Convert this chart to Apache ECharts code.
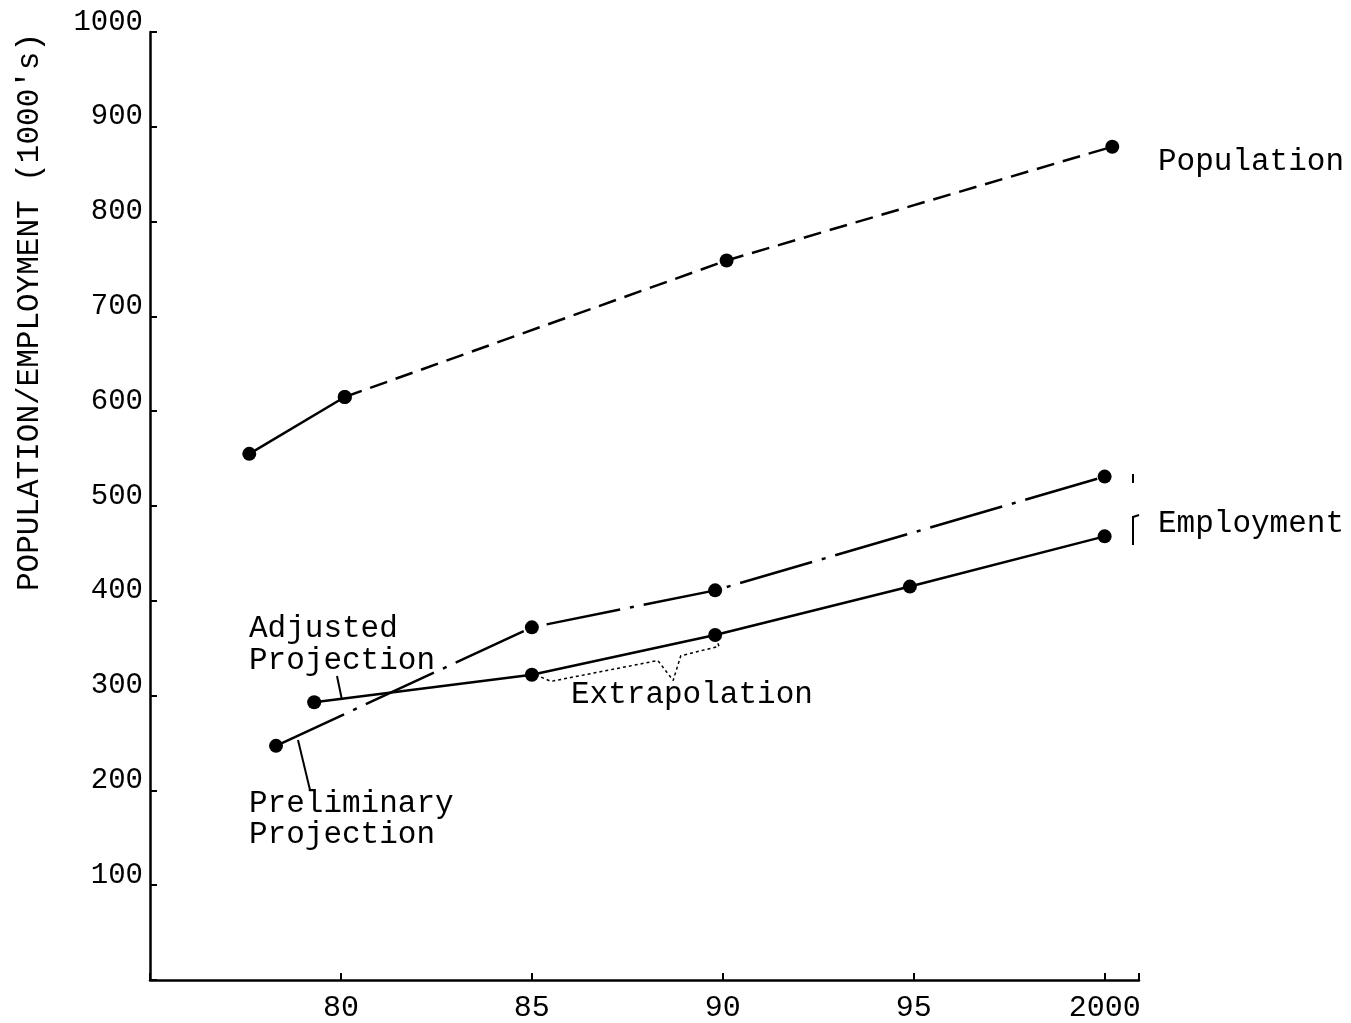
<!DOCTYPE html>
<html>
<head>
<meta charset="utf-8">
<script src="https://cdn.jsdelivr.net/npm/echarts@6/dist/echarts.min.js"></script>
<style>
html,body{margin:0;padding:0;background:#fff;}
#chart{width:1351px;height:1023px;}
</style>
</head>
<body>
<div id="chart"></div>
<script>
// ---- data (x = year, 100 = 2000; y = thousands) ----
var popObserved = [[77.6, 555], [80.1, 615]];
var popProjected = [[80.1, 615], [90.1, 759], [100.2, 879]];
var empPreliminary = [[78.3, 247], [85.0, 372], [89.8, 411], [100.0, 531]];
var empAdjusted = [[79.3, 293], [85.0, 322], [89.8, 364], [94.9, 415], [100.0, 468]];
var extrapolation = [[85.1, 322], [85.5, 315], [88.3, 337], [88.7, 316], [88.9, 342], [89.9, 352], [89.8, 364]];
var xTicks = [80, 85, 90, 95, 100];
var xTickLabels = ['80', '85', '90', '95', '2000'];
var yTicks = [100, 200, 300, 400, 500, 600, 700, 800, 900, 1000];

var FONT = '"Liberation Mono", "DejaVu Sans Mono", monospace';
var chart = echarts.init(document.getElementById('chart'));

function lineSeries(data, type, withSymbols, width) {
  return {
    type: 'line',
    data: data,
    symbol: withSymbols ? 'circle' : 'none',
    symbolSize: 14,
    itemStyle: { color: '#000' },
    lineStyle: { color: '#000', width: width || 2.5, type: type },
    silent: true,
    animation: false,
    z: 3
  };
}

function txt(x, y, s, extra) {
  var o = {
    type: 'text', x: x, y: y,
    style: { text: s, font: '31px ' + FONT, fill: '#000', textAlign: 'left', textVerticalAlign: 'middle' }
  };
  if (extra) for (var k in extra) o[k] = extra[k];
  return o;
}
function seg(x1, y1, x2, y2, w) {
  return { type: 'line', shape: { x1: x1, y1: y1, x2: x2, y2: y2 }, style: { stroke: '#000', lineWidth: w || 2 } };
}

var option = {
  animation: false,
  backgroundColor: '#fff',
  grid: { left: 150, right: 212, top: 32, bottom: 41, containLabel: false },
  xAxis: {
    type: 'value', min: 75, max: 100.9, interval: 5,
    axisLine: { show: true, lineStyle: { color: '#000', width: 2.5 } },
    axisTick: { show: true, inside: true, length: 7, lineStyle: { color: '#000', width: 2 } },
    splitLine: { show: false },
    axisLabel: {
      margin: 13, fontFamily: FONT, fontSize: 30, color: '#000',
      formatter: function (v) { var i = xTicks.indexOf(v); return i >= 0 ? xTickLabels[i] : ''; }
    }
  },
  yAxis: {
    type: 'value', min: 0, max: 1000, interval: 100,
    axisLine: { show: true, lineStyle: { color: '#000', width: 2.5 } },
    axisTick: { show: true, inside: true, length: 7, lineStyle: { color: '#000', width: 2 } },
    splitLine: { show: false },
    axisLabel: {
      margin: 7, fontFamily: FONT, fontSize: 29, color: '#000', verticalAlign: 'bottom',
      lineHeight: 20,
      formatter: function (v) { return yTicks.indexOf(v) >= 0 ? String(v) : ''; }
    }
  },
  series: [
    lineSeries(popObserved, 'solid', true),
    lineSeries(popProjected, [18, 9], true),
    lineSeries(empPreliminary, [75, 10, 4, 10], true),
    lineSeries(empAdjusted, 'solid', true),
    lineSeries(extrapolation, [3, 3], false, 1.5)
  ],
  graphic: [
    txt(30, 312, "POPULATION/EMPLOYMENT (1000's)", { rotation: Math.PI / 2, style: { text: "POPULATION/EMPLOYMENT (1000's)", font: '31px ' + FONT, fill: '#000', textAlign: 'center', textVerticalAlign: 'middle' } }),
    txt(1158, 162, 'Population'),
    txt(1158, 524, 'Employment'),
    txt(249, 629, 'Adjusted'),
    txt(249, 661, 'Projection'),
    txt(571, 695, 'Extrapolation'),
    txt(249, 804, 'Preliminary'),
    txt(249, 835, 'Projection'),
    seg(337, 676, 342, 700),
    seg(298, 740, 310, 790),
    seg(1133, 474, 1133, 483),
    seg(1133, 516, 1133, 545),
    seg(1133, 517, 1139, 515)
  ]
};
chart.setOption(option);
</script>
</body>
</html>
